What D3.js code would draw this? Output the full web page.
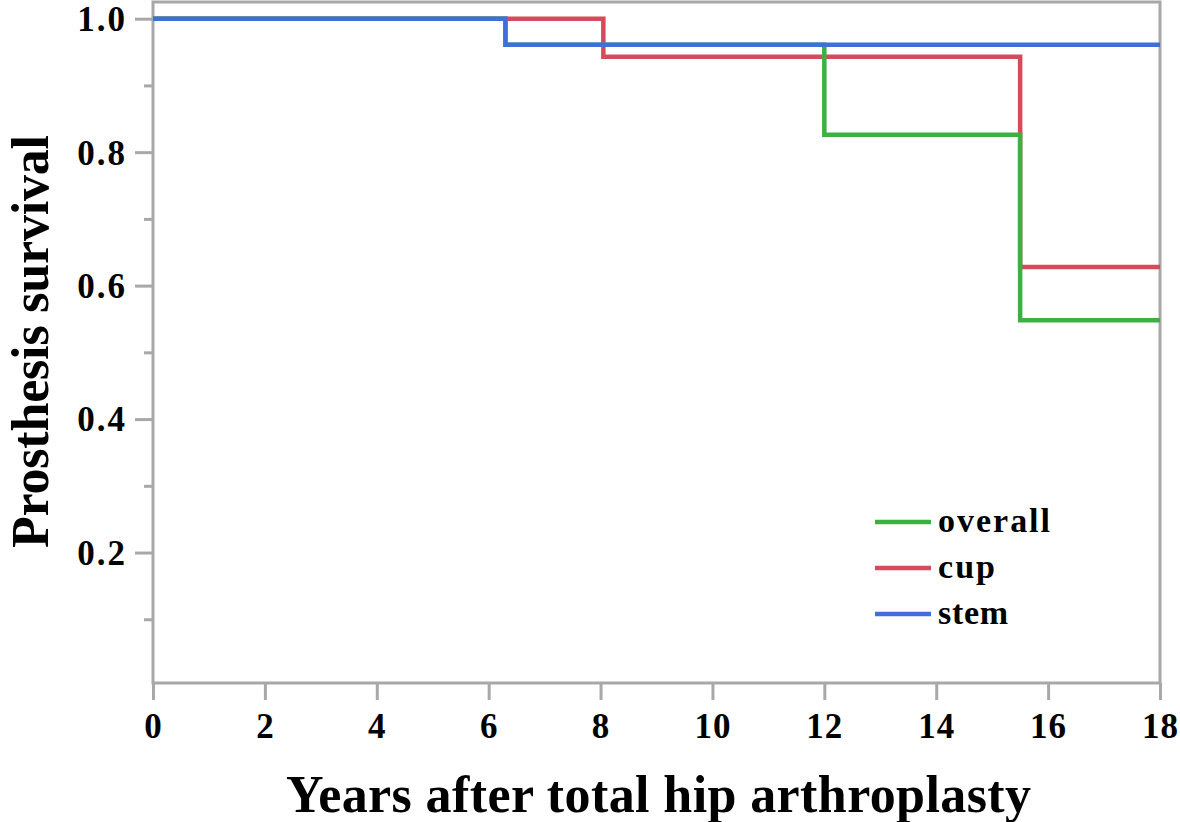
<!DOCTYPE html>
<html><head><meta charset="utf-8">
<script src="https://cdn.jsdelivr.net/npm/d3@7"></script>
<style>body{margin:0;background:#fff}svg{display:block}text{font-family:"Liberation Serif","DejaVu Serif",serif;font-weight:bold;fill:#000}</style>
</head><body><svg id="c" width="1180" height="822"></svg>
<script>
const xTicks = [0,2,4,6,8,10,12,14,16,18];
const yTicks = [0.2,0.4,0.6,0.8,1.0];
const yMinorTicks = [0.1,0.3,0.5,0.7,0.9];
const seriesNames = ["overall","cup","stem"];
const seriesColors = ["#3bb143","#d64a5b","#3f6fdc"];
// step points: [time, survival]
const overall = [[0,1.0],[6.3,0.961],[12.0,0.826],[15.5,0.548],[18,0.548]];
const cup = [[0,1.0],[8.05,0.943],[15.5,0.628],[18,0.628]];
const stem = [[0,1.0],[6.3,0.961],[18,0.961]];
const seriesData = [overall,cup,stem];

const svg = d3.select("#c");
const L=153, R=1160, T=2, B=683;
const x = d3.scaleLinear().domain([0,18]).range([L,R]);
const y = d3.scaleLinear().domain([0,1]).range([686,18.7]);
const axisColor="#a8a8a8";

svg.append("rect").attr("x",L).attr("y",T).attr("width",R-L).attr("height",B-T)
  .attr("fill","none").attr("stroke",axisColor).attr("stroke-width",3);

const xa = svg.append("g").attr("transform",`translate(0,${B})`)
  .call(d3.axisBottom(x).tickValues(xTicks).tickSize(17).tickPadding(6).tickFormat(d3.format("d")));
xa.select(".domain").remove();
xa.selectAll("line").attr("stroke",axisColor).attr("stroke-width",3);
xa.selectAll("text").style("font-size","35px").style("letter-spacing","1px").attr("dy","0.9em");

const ya = svg.append("g").attr("transform",`translate(${L},0)`)
  .call(d3.axisLeft(y).tickValues(yTicks).tickSize(18).tickPadding(8).tickFormat(d3.format(".1f")));
ya.select(".domain").remove();
ya.selectAll("line").attr("stroke",axisColor).attr("stroke-width",3);
ya.selectAll("text").style("font-size","35px").style("letter-spacing","2px").attr("dy","0.34em");
const ym = svg.append("g").attr("transform",`translate(${L},0)`)
  .call(d3.axisLeft(y).tickValues(yMinorTicks).tickSize(9).tickFormat(""));
ym.select(".domain").remove();
ym.selectAll("line").attr("stroke",axisColor).attr("stroke-width",3);

const line = d3.line().x(d=>x(d[0])).y(d=>y(d[1])).curve(d3.curveStepAfter);
[1,0,2].forEach(i=>{
  svg.append("path").datum(seriesData[i]).attr("d",line)
    .attr("fill","none").attr("stroke",seriesColors[i]).attr("stroke-width",4.5);
});

const legendW = [112,57,70];
seriesNames.forEach((n,i)=>{
  const ly = 522 + i*46;
  svg.append("line").attr("x1",875).attr("x2",931).attr("y1",ly).attr("y2",ly)
    .attr("stroke",seriesColors[i]).attr("stroke-width",4.5);
  svg.append("text").attr("x",938).attr("y",ly+10).style("font-size","34px")
    .attr("textLength",legendW[i]).attr("lengthAdjust","spacing").text(n);
});

svg.append("text").attr("x",286).attr("y",812)
  .style("font-size","52px").attr("textLength",745).attr("lengthAdjust","spacing")
  .text("Years after total hip arthroplasty");
svg.append("text").attr("transform","translate(48,548) rotate(-90)")
  .style("font-size","52px").attr("textLength",413).attr("lengthAdjust","spacing")
  .text("Prosthesis survival");
</script></body></html>
